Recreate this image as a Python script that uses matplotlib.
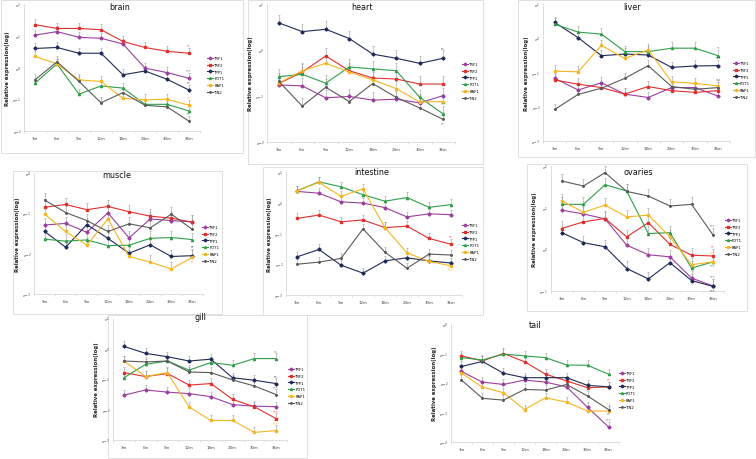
import numpy as np
import matplotlib.pyplot as plt
from matplotlib.patches import Rectangle
from matplotlib.ticker import FixedLocator, FuncFormatter

months = ['3m', '6m', '9m', '12m', '18m', '24m', '30m', '36m']
genes = ['TRF1', 'TRF2', 'TPP1', 'POT1', 'RAP1', 'TIN2']
colors = ['#9b3f9f', '#e0302d', '#1f2a56', '#2f9e48', '#f5b523', '#5a5a5a']
markers = ['D', 's', 'D', '^', 'o', '*']

# relative expression, read as natural-log exponents (row order = genes)
brain = [[1.02, 1.13, 0.95, 0.92, 0.74, -0.02, -0.16, -0.34],
         [1.35, 1.23, 1.23, 1.19, 0.82, 0.63, 0.51, 0.45],
         [0.60, 0.63, 0.45, 0.45, -0.23, -0.11, -0.37, -0.71],
         [-0.49, 0.11, -0.84, -0.58, -0.65, -1.16, -1.16, -1.37],
         [0.35, 0.11, -0.39, -0.44, -0.97, -1.02, -1.00, -1.19],
         [-0.39, 0.18, -0.44, -1.11, -0.79, -1.19, -1.24, -1.69]]
heart = [[-0.76, -0.78, -1.04, -1.01, -1.09, -1.07, -1.15, -0.99],
         [-0.73, -0.48, -0.13, -0.45, -0.61, -0.63, -0.74, -0.74],
         [0.59, 0.40, 0.45, 0.25, -0.09, -0.18, -0.29, -0.18],
         [-0.58, -0.53, -0.72, -0.37, -0.41, -0.45, -1.03, -1.39],
         [-0.72, -0.45, -0.29, -0.48, -0.65, -0.84, -1.13, -1.12],
         [-0.68, -1.22, -0.81, -1.12, -0.73, -1.03, -1.26, -1.51]]
liver = [[-1.17, -1.51, -1.30, -1.63, -1.73, -1.44, -1.44, -1.69],
         [-1.22, -1.34, -1.44, -1.63, -1.41, -1.53, -1.58, -1.53],
         [0.46, 0.02, -0.51, -0.46, -0.49, -0.85, -0.81, -0.80],
         [0.41, 0.18, 0.12, -0.39, -0.39, -0.29, -0.29, -0.51],
         [-0.96, -0.98, -0.21, -0.59, -0.34, -1.27, -1.32, -1.39],
         [-2.08, -1.64, -1.46, -1.17, -0.80, -1.41, -1.49, -1.44]]
muscle = [[-1.29, -1.25, -1.47, -0.99, -1.61, -1.14, -1.18, -1.21],
          [-0.85, -0.78, -0.91, -0.83, -0.96, -1.07, -1.12, -1.22],
          [-1.45, -1.84, -1.28, -1.62, -1.99, -1.78, -2.07, -2.05],
          [-1.64, -1.69, -1.66, -1.80, -1.79, -1.62, -1.60, -1.65],
          [-1.02, -1.45, -1.79, -1.14, -2.07, -2.21, -2.38, -2.09],
          [-0.67, -0.98, -1.18, -1.45, -1.26, -1.36, -1.02, -1.40]]
intestine = [[0.37, 0.31, 0.03, -0.01, -0.16, -0.46, -0.36, -0.39],
             [-0.51, -0.40, -0.62, -0.56, -0.81, -0.76, -1.16, -1.35],
             [-1.76, -1.52, -2.03, -2.29, -1.89, -1.79, -1.89, -1.96],
             [0.39, 0.68, 0.52, 0.26, 0.05, 0.17, -0.15, -0.06],
             [0.39, 0.66, 0.21, 0.45, -0.81, -1.63, -1.91, -2.05],
             [-2.00, -1.93, -1.81, -0.85, -1.61, -2.13, -1.67, -1.70]]
ovaries = [[0.94, 0.85, 0.73, 0.10, -0.13, -0.18, -0.69, -0.88],
           [0.50, 0.66, 0.74, 0.30, 0.64, 0.12, -0.14, -0.16],
           [0.40, 0.16, 0.06, -0.46, -0.71, -0.32, -0.75, -0.89],
           [1.08, 1.08, 1.55, 1.40, 0.38, 0.40, -0.45, -0.30],
           [1.16, 0.89, 1.06, 0.78, 0.82, 0.30, -0.37, -0.30],
           [1.64, 1.52, 1.84, 1.39, 1.28, 1.04, 1.08, 0.34]]
gill = [[-1.53, -1.36, -1.43, -1.48, -1.58, -1.84, -1.89, -1.91],
        [-0.79, -0.92, -0.82, -1.20, -1.15, -1.67, -1.91, -2.30],
        [0.07, -0.16, -0.27, -0.41, -0.35, -0.96, -1.04, -1.15],
        [-0.96, -0.52, -0.41, -0.71, -0.46, -0.55, -0.33, -0.33],
        [-0.41, -0.92, -0.79, -1.92, -2.36, -2.36, -2.75, -2.69],
        [-0.41, -0.44, -0.41, -0.77, -0.79, -1.03, -1.23, -1.51]]
tail = [[-1.61, -1.97, -2.05, -1.90, -1.97, -2.13, -2.82, -3.49],
        [-1.08, -1.25, -1.00, -1.28, -1.70, -1.93, -2.16, -2.13],
        [-1.44, -1.27, -1.67, -1.82, -1.82, -1.82, -2.08, -2.13],
        [-1.14, -1.22, -1.02, -1.08, -1.14, -1.39, -1.40, -1.70],
        [-1.67, -2.14, -2.33, -2.90, -2.50, -2.65, -2.95, -2.95],
        [-1.90, -2.52, -2.58, -2.22, -2.24, -2.05, -2.44, -2.90]]
err = 0.17  # typical upper error bar, in log units

# significance marks at 36m: (gene index, label, 1 above / -1 below)
stars = {'brain': [(1, '**', 1), (0, '***', 1), (2, '**', 1), (4, '**', 1), (5, '**', 1)],
         'heart': [(2, '**', 1), (3, '***', 1), (5, '**', -1)],
         'liver': [(3, '**', 1), (2, '***', 1), (5, '***', 1)],
         'muscle': [(2, '**', 1), (4, '**', -1)],
         'intestine': [(1, '**', 1), (4, '***', -1)],
         'ovaries': [(5, '***', 1), (1, '**', 1), (4, '***', 1), (3, '***', -1),
                     (0, '***', 1), (2, '***', -1)],
         'gill': [(3, '**', 1), (2, '**', 1), (5, '***', 1), (1, '***', 1), (4, '***', 1)],
         'tail': [(1, '**', 1), (4, '***', 1), (5, '**', -1), (0, '***', 1)]}

W, H = 756, 460
fig = plt.figure(figsize=(W / 100, H / 100), dpi=100)

# panel frames (pixels: x0, y0, x1, y1)
frames = [(1, 1, 243, 154), (248, 1, 483, 165), (518, 1, 755, 158),
          (13, 172, 222, 315), (263, 168, 483, 316), (527, 165, 747, 312),
          (108, 316, 307, 459)]
for fx0, fy0, fx1, fy1 in frames:
    fig.add_artist(Rectangle((fx0 / W, 1 - fy1 / H), (fx1 - fx0) / W, (fy1 - fy0) / H,
                             transform=fig.transFigure, fill=False,
                             edgecolor='#e0e0e0', lw=0.7, zorder=0))

# name, data, plot box (x0, x1, ytop, ybot in px), y range, title pos, legend pos
panels = [('brain', brain, (24, 200, 5, 132), (-2, 2), (120, 8), (207, 57)),
          ('heart', heart, (267, 455, 5, 143), (-2, 1), (362, 7), (462, 63)),
          ('liver', liver, (543, 730, 5, 142), (-3, 1), (632, 7), (733, 62)),
          ('muscle', muscle, (34, 203, 174, 295), (-3, 0), (117, 176), (202, 226)),
          ('intestine', intestine, (286, 462, 173, 296), (-3, 1), (372, 173), (462, 224)),
          ('ovaries', ovaries, (551, 724, 167, 292), (-1, 2), (638, 173), (725, 219)),
          ('gill', gill, (113, 287, 319, 441), (-3, 1), (200, 318), (288, 368)),
          ('tail', tail, (451, 619, 325, 443), (-4, 0), (535, 326), (619, 372))]

x = np.arange(len(months))
for name, data, (x0, x1, yt, yb), (lo, hi), (tx, ty), (lx, ly) in panels:
    ax = fig.add_axes([x0 / W, 1 - yb / H, (x1 - x0) / W, (yb - yt) / H])
    ax.set_yscale('log', base=np.e)
    for i, g in enumerate(genes):
        v = np.array(data[i])
        y = np.exp(v)
        up = np.exp(v + err) - y
        ax.errorbar(x, y, yerr=[np.zeros_like(y), up], fmt='none', ecolor='#9a9a9a',
                    elinewidth=0.4, capsize=0.8, capthick=0.4, zorder=2)
        ax.plot(x, y, color=colors[i], lw=0.8, marker=markers[i], ms=1.6,
                mec=colors[i], label=g, zorder=3)
    for gi, s, d in stars[name]:
        if d > 0:
            ax.annotate(s, (7, np.exp(data[gi][-1] + err)), xytext=(0, 0.3),
                        textcoords='offset points', ha='center', va='bottom',
                        fontsize=2.6, color=colors[gi], zorder=4)
        else:
            ax.annotate(s, (7, np.exp(data[gi][-1])), xytext=(0, -1.2),
                        textcoords='offset points', ha='center', va='top',
                        fontsize=2.6, color=colors[gi], zorder=4)
    ax.set_xlim(-0.5, 7.5)
    ax.set_ylim(np.exp(lo), np.exp(hi))
    ax.yaxis.set_major_locator(FixedLocator([np.exp(k) for k in range(lo, hi + 1)]))
    ax.yaxis.set_minor_locator(FixedLocator([]))
    ax.yaxis.set_major_formatter(FuncFormatter(lambda val, p: r'$e^{%d}$' % round(np.log(val))))
    ax.set_xticks(x)
    ax.set_xticklabels(months)
    ax.set_xticks(np.arange(-0.5, 8, 1), minor=True)
    ax.tick_params(axis='x', which='major', length=0, labelsize=2.8, pad=3.5, colors='#444444')
    ax.tick_params(axis='x', which='minor', length=1.5, width=0.4, color='#bfbfbf')
    ax.tick_params(axis='y', length=0, labelsize=3, pad=2, colors='#444444')
    for sp in ['top', 'right']:
        ax.spines[sp].set_visible(False)
    for sp in ['left', 'bottom']:
        ax.spines[sp].set_color('#d0d0d0')
        ax.spines[sp].set_linewidth(0.5)
    ax.set_facecolor('none')
    ax.set_ylabel('Relative expression(log)', fontsize=3.9, fontweight='bold',
                  color='#222222', labelpad=2)
    fig.text(tx / W, 1 - ty / H, name, ha='center', va='center', fontsize=5.8,
             fontweight='medium', color='#111111')
    ax.legend(loc='upper left', bbox_to_anchor=(lx / W, 1 - ly / H),
              bbox_transform=fig.transFigure, frameon=False, fontsize=2.7,
              handlelength=1.6, handletextpad=0.3, labelspacing=0.75,
              borderpad=0, borderaxespad=0, markerscale=0.9)

fig.savefig('out.png', dpi=100)
